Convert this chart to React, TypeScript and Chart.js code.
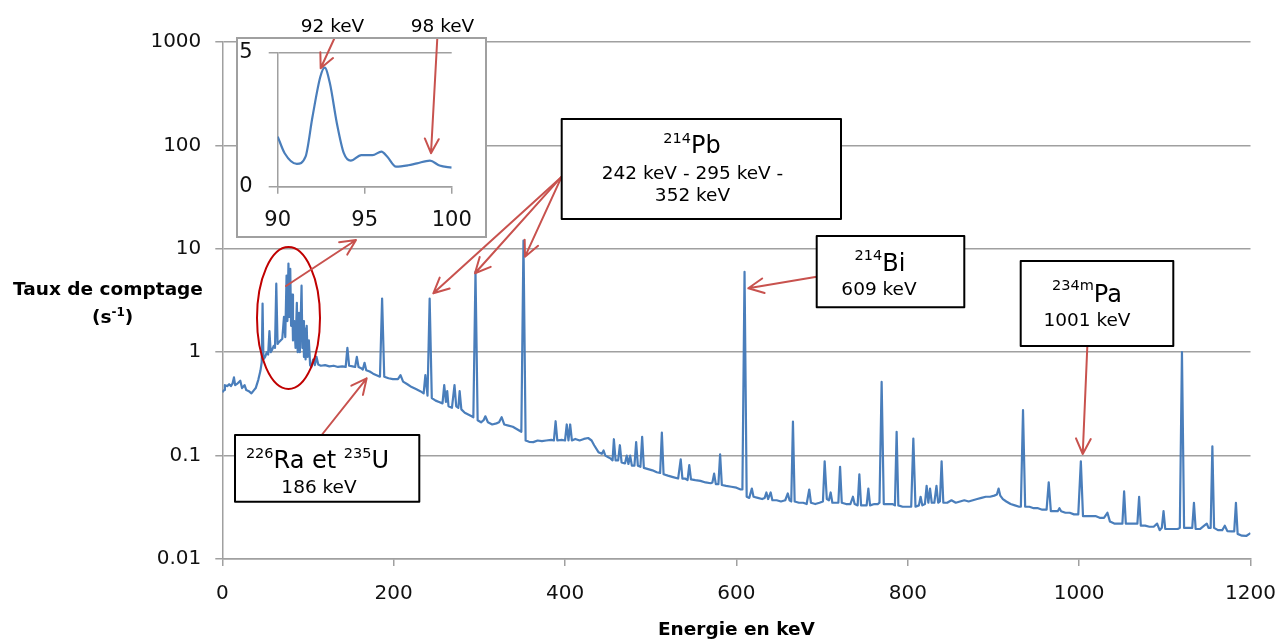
import { useEffect, useRef } from 'react';
import { Chart, registerables } from 'chart.js';

Chart.register(...registerables);

// ---------- DATA ----------
// Gamma spectrum: [energy keV, count rate s^-1]
const spectrum: [number, number][] = [
  [0, 0.41], [2, 0.43], [3, 0.48], [6, 0.47], [8, 0.49], [10, 0.47], [12, 0.5], [13.6, 0.57], [15, 0.48],
  [18, 0.5], [21, 0.53], [23, 0.45], [26, 0.48], [28, 0.43], [31, 0.42], [34, 0.4], [37, 0.43], [39, 0.45],
  [42, 0.54], [44.5, 0.66], [46, 0.8], [47, 2.95], [48, 0.85], [50, 0.9], [52, 1.0], [53.5, 0.95], [55, 1.6],
  [56.5, 1.0], [58, 1.05], [60, 1.15], [61.5, 1.1], [63, 4.6], [64.5, 1.2], [66, 1.25], [68, 1.3], [70, 1.35],
  [72, 2.2], [73.5, 1.4], [75, 5.5], [76, 2.0], [77.2, 7.2], [78.2, 2.2], [79.3, 6.4], [80.3, 1.8], [81.5, 3.6],
  [82.5, 1.3], [84, 2.0], [85.5, 1.1], [87, 3.0], [88, 1.0], [89.5, 2.4], [90.5, 1.0], [92.5, 4.4], [93.5, 1.1],
  [94.5, 2.0], [95.3, 0.9], [96.3, 1.7], [97.2, 0.85], [98.5, 1.8], [99.5, 0.9], [101, 1.3], [102.5, 0.75],
  [104, 0.72], [106, 0.85], [108, 0.75], [110, 0.9], [112, 0.76], [115, 0.74], [120, 0.75], [125, 0.73],
  [130, 0.74], [135, 0.72], [140, 0.73], [144, 0.72], [146, 1.1], [148, 0.74], [152, 0.73], [155, 0.72],
  [157, 0.9], [159, 0.72], [162, 0.7], [164, 0.68], [166, 0.79], [168, 0.67], [172, 0.65], [176, 0.62],
  [180, 0.6], [184, 0.58], [186.5, 3.3], [189, 0.58], [194, 0.56], [199, 0.55], [205, 0.55], [208, 0.6],
  [211, 0.52], [216, 0.49], [221, 0.46], [226, 0.44], [231, 0.42], [235, 0.4], [237, 0.6], [239.5, 0.38],
  [242, 3.3], [244.5, 0.36], [249, 0.34], [253, 0.33], [257, 0.32], [259, 0.48], [261, 0.33], [262.5, 0.42],
  [264, 0.3], [268, 0.29], [271, 0.48], [273, 0.3], [275.5, 0.29], [277, 0.42], [279, 0.28], [283, 0.26],
  [287, 0.25], [291, 0.24], [293, 0.235], [295.5, 6.0], [298, 0.22], [302, 0.21], [305, 0.22], [307, 0.24],
  [310, 0.21], [315, 0.2], [320, 0.205], [323, 0.21], [326, 0.235], [329, 0.2], [334, 0.195], [339, 0.19],
  [344, 0.18], [349, 0.17], [351.5, 12], [354, 0.14], [358, 0.136], [363, 0.135], [368, 0.14], [373, 0.138],
  [378, 0.14], [384, 0.142], [387, 0.14], [389, 0.215], [391, 0.14], [396, 0.142], [400, 0.14], [402, 0.2],
  [404, 0.14], [406, 0.2], [408, 0.14], [412, 0.145], [417, 0.14], [422, 0.145], [427, 0.148], [431, 0.14],
  [434, 0.126], [439, 0.108], [443, 0.104], [445, 0.112], [447, 0.1], [451, 0.096], [453, 0.094],
  [455.5, 0.09], [457, 0.144], [459, 0.09], [462, 0.09], [464, 0.126], [466, 0.086], [470, 0.084],
  [472, 0.1], [474, 0.083], [476, 0.1], [478, 0.08], [481, 0.08], [483, 0.135], [485, 0.08], [488, 0.078],
  [490, 0.152], [492, 0.076], [497, 0.074], [502, 0.072], [507, 0.069], [511, 0.068], [513, 0.167],
  [515, 0.066], [520, 0.064], [526, 0.062], [532, 0.06], [535, 0.092], [537, 0.06], [540, 0.06], [543, 0.058],
  [545, 0.081], [547, 0.059], [552, 0.058], [558, 0.057], [564, 0.055], [570, 0.054], [572, 0.055],
  [574, 0.067], [576, 0.053], [579, 0.053], [581, 0.103], [583, 0.052], [588, 0.051], [594, 0.05],
  [600, 0.049], [605, 0.047], [607, 0.047], [609.5, 6.0], [612, 0.04], [615, 0.039], [618, 0.048],
  [620, 0.04], [625, 0.039], [630, 0.038], [633, 0.039], [635, 0.044], [637, 0.038], [640, 0.044],
  [642, 0.037], [647, 0.037], [652, 0.036], [657, 0.037], [660, 0.043], [662, 0.037], [664, 0.036],
  [666, 0.213], [668, 0.036], [673, 0.035], [678, 0.035], [682, 0.034], [685, 0.047], [687, 0.035],
  [692, 0.034], [697, 0.035], [701, 0.036], [703, 0.088], [705.5, 0.038], [708, 0.037], [710, 0.044],
  [712, 0.035], [716, 0.035], [719, 0.035], [721, 0.078], [723, 0.035], [728, 0.034], [733, 0.034],
  [736, 0.04], [738, 0.034], [741.5, 0.033], [743.5, 0.066], [745.5, 0.033], [750, 0.033], [752, 0.033],
  [754, 0.048], [756, 0.033], [761, 0.034], [765, 0.034], [767, 0.035], [769.5, 0.516], [772, 0.034],
  [777, 0.034], [782, 0.034], [785, 0.033], [787, 0.17], [789, 0.033], [794, 0.032], [799, 0.032],
  [804, 0.032], [806.5, 0.146], [809, 0.032], [813, 0.033], [815, 0.04], [817, 0.033], [820, 0.034],
  [822, 0.051], [824, 0.035], [826, 0.048], [828, 0.035], [831, 0.035], [833.5, 0.051], [835.5, 0.035],
  [837.5, 0.036], [839.5, 0.088], [841.5, 0.035], [846, 0.035], [851, 0.037], [856, 0.035], [861, 0.036],
  [866, 0.037], [871, 0.036], [876, 0.037], [881, 0.038], [886, 0.039], [891, 0.04], [896, 0.04],
  [901, 0.041], [904, 0.042], [906, 0.048], [908, 0.041], [911, 0.038], [915, 0.036], [920, 0.034],
  [925, 0.033], [930, 0.032], [932, 0.032], [934.5, 0.275], [937, 0.032], [942, 0.032], [947, 0.031],
  [952, 0.031], [957, 0.03], [962, 0.03], [964.5, 0.055], [967, 0.029], [971, 0.029], [975, 0.029],
  [977, 0.031], [979, 0.029], [984, 0.028], [989, 0.028], [994, 0.027], [999, 0.027], [1002, 0.088],
  [1004.5, 0.026], [1009, 0.026], [1014, 0.026], [1019, 0.026], [1024, 0.025], [1029, 0.025], [1033, 0.028],
  [1036, 0.023], [1041, 0.022], [1046, 0.022], [1050.5, 0.022], [1052.5, 0.045], [1054.5, 0.022],
  [1059, 0.022], [1064, 0.022], [1068, 0.022], [1070, 0.04], [1072, 0.021], [1077, 0.021], [1082, 0.0205],
  [1087, 0.0205], [1091, 0.022], [1094, 0.019], [1096.5, 0.02], [1098.5, 0.029], [1100.5, 0.0195],
  [1105, 0.0195], [1110, 0.0195], [1115, 0.0195], [1117.5, 0.02], [1120, 1.0], [1122.5, 0.02], [1127, 0.02],
  [1132, 0.02], [1134, 0.035], [1136, 0.0195], [1141, 0.0195], [1146, 0.021], [1149, 0.022], [1151, 0.02],
  [1153.5, 0.02], [1155.5, 0.123], [1157.5, 0.02], [1162, 0.019], [1167, 0.019], [1170, 0.021],
  [1173, 0.0186], [1178, 0.0185], [1181, 0.0185], [1183, 0.035], [1185, 0.0175], [1190, 0.0168],
  [1195, 0.0167], [1200, 0.0178],
];

// Inset zoom 90-100 keV (linear)
const insetPoints: [number, number][] = [
  [90.0, 1.87], [90.4, 1.25], [91.1, 0.85], [91.6, 1.12], [92.0, 2.61], [92.45, 4.1], [92.7, 4.44],
  [93.0, 3.86], [93.4, 2.37], [93.8, 1.25], [94.2, 0.97], [94.8, 1.18], [95.45, 1.18], [95.96, 1.31],
  [96.3, 1.12], [96.8, 0.75], [97.5, 0.8], [98.0, 0.87], [98.75, 0.97], [99.3, 0.79], [100, 0.71],
];

const xTickValues = [0, 200, 400, 600, 800, 1000, 1200];
const yTickValues = [0.01, 0.1, 1, 10, 100, 1000];
const yTickLabels = ['0.01', '0.1', '1', '10', '100', '1000'];
const insetXTicks = [90, 95, 100];
const insetYTicks = [0, 5];

// Arrow targets (keV, rate)
const pbTargets: [number, number][] = [[246.3, 3.71], [294.9, 5.8], [353.3, 8.39]];
const biTarget: [number, number] = [613.9, 4.15];
const paTarget: [number, number] = [1004.2, 0.1036];
const raTarget: [number, number] = [168.5, 0.559];
const insetTargets: [number, number][] = [[92.47, 4.42], [98.81, 1.25]];
const insetArrowStarts = [93.24, 99.17];

// ---------- STYLE ----------
const FONT = 'DejaVu Sans';
const BLUE = '#4a7ebb';
const RED = '#c8524e';
const DARKRED = '#c00000';
const GRID = '#a0a0a0';
const TXT = '#111111';

function arrow(ctx: CanvasRenderingContext2D, x1: number, y1: number, x2: number, y2: number, head = 17) {
  const a = Math.atan2(y2 - y1, x2 - x1);
  const sp = 0.45;
  ctx.beginPath();
  ctx.moveTo(x1, y1);
  ctx.lineTo(x2, y2);
  ctx.moveTo(x2 - head * Math.cos(a - sp), y2 - head * Math.sin(a - sp));
  ctx.lineTo(x2, y2);
  ctx.lineTo(x2 - head * Math.cos(a + sp), y2 - head * Math.sin(a + sp));
  ctx.stroke();
}

type Part = { t: string; sup?: boolean };
function rich(ctx: CanvasRenderingContext2D, parts: Part[], cx: number, base: number, size: number, supSize: number, raise: number, weight = 'normal') {
  const f = (p: Part) => `${weight} ${p.sup ? supSize : size}px "${FONT}"`;
  let total = 0;
  const ws = parts.map((p) => {
    ctx.font = f(p);
    const w = ctx.measureText(p.t).width;
    total += w;
    return w;
  });
  let x = cx - total / 2;
  ctx.textAlign = 'left';
  ctx.textBaseline = 'alphabetic';
  parts.forEach((p, i) => {
    ctx.font = f(p);
    ctx.fillText(p.t, x, p.sup ? base - raise : base);
    x += ws[i];
  });
}

function line(ctx: CanvasRenderingContext2D, t: string, cx: number, base: number, size: number, weight = 'normal') {
  ctx.font = `${weight} ${size}px "${FONT}"`;
  ctx.textAlign = 'center';
  ctx.textBaseline = 'alphabetic';
  ctx.fillText(t, cx, base);
}

function box(ctx: CanvasRenderingContext2D, x1: number, y1: number, x2: number, y2: number) {
  ctx.fillStyle = '#ffffff';
  ctx.fillRect(x1, y1, x2 - x1, y2 - y1);
  ctx.strokeStyle = '#000000';
  ctx.lineWidth = 2;
  ctx.strokeRect(x1, y1, x2 - x1, y2 - y1);
}

const mainAnnotations = {
  id: 'mainAnnotations',
  afterDatasetsDraw(chart: any) {
    const ctx: CanvasRenderingContext2D = chart.ctx;
    const xs = chart.scales.x;
    const ys = chart.scales.y;
    const P = (d: [number, number]) => [xs.getPixelForValue(d[0]), ys.getPixelForValue(d[1])];
    ctx.save();

    // Ellipse around low-energy cluster
    ctx.strokeStyle = DARKRED;
    ctx.lineWidth = 2;
    ctx.beginPath();
    ctx.ellipse(288.5, 318, 31.5, 71, 0, 0, Math.PI * 2);
    ctx.stroke();

    // Arrows
    ctx.strokeStyle = RED;
    ctx.lineWidth = 2;
    ctx.lineCap = 'round';
    ctx.lineJoin = 'round';
    arrow(ctx, 286, 286, 356, 240);
    pbTargets.forEach((t) => {
      const [x, y] = P(t);
      arrow(ctx, 561.7, 176.7, x, y);
    });
    {
      const [x, y] = P(biTarget);
      arrow(ctx, 816.7, 276.7, x, y);
    }
    {
      const [x, y] = P(paTarget);
      arrow(ctx, 1087.3, 346.7, x, y);
    }
    {
      const [x, y] = P(raTarget);
      arrow(ctx, 321.7, 435, x, y);
    }

    // Boxes
    box(ctx, 561.7, 119, 841, 219);
    box(ctx, 816.7, 236, 964.3, 307.3);
    box(ctx, 1020.7, 261, 1173.3, 346);
    box(ctx, 235, 435, 419.3, 501.7);

    ctx.fillStyle = '#000000';
    rich(ctx, [{ t: '214', sup: true }, { t: 'Pb' }], 692, 153, 24, 14.5, 10);
    line(ctx, '242 keV - 295 keV -', 692.5, 179, 18.5);
    line(ctx, '352 keV', 692.5, 201, 18.5);

    rich(ctx, [{ t: '214', sup: true }, { t: 'Bi' }], 880, 270.7, 24, 14.5, 10.5);
    line(ctx, '609 keV', 879, 295, 18.5);

    rich(ctx, [{ t: '234m', sup: true }, { t: 'Pa' }], 1087, 301.7, 24, 14.5, 12);
    line(ctx, '1001 keV', 1087, 326, 18.5);

    rich(ctx, [{ t: '226', sup: true }, { t: 'Ra et ' }, { t: '235', sup: true }, { t: 'U' }], 317.5, 468.3, 24, 14.5, 10);
    line(ctx, '186 keV', 319, 493.3, 18.5);

    // Inset labels
    line(ctx, '92 keV', 332.5, 31.5, 18.5);
    line(ctx, '98 keV', 442.5, 31.5, 18.5);

    // Axis titles
    ctx.fillStyle = '#000000';
    line(ctx, 'Taux de comptage', 108, 295, 18.5, 'bold');
    rich(ctx, [{ t: '(s' }, { t: '-1', sup: true }, { t: ')' }], 112.7, 323, 18.5, 12, 7, 'bold');
    line(ctx, 'Energie en keV', (chart.chartArea.left + chart.chartArea.right) / 2, 635, 18.5, 'bold');

    ctx.restore();
  },
};

const insetAnnotations = {
  id: 'insetAnnotations',
  afterDatasetsDraw(chart: any) {
    const ctx: CanvasRenderingContext2D = chart.ctx;
    const xs = chart.scales.x;
    const ys = chart.scales.y;
    ctx.save();
    ctx.strokeStyle = RED;
    ctx.lineWidth = 2;
    ctx.lineCap = 'round';
    ctx.lineJoin = 'round';
    insetTargets.forEach((t, i) => {
      arrow(ctx, xs.getPixelForValue(insetArrowStarts[i]), 0, xs.getPixelForValue(t[0]), ys.getPixelForValue(t[1]), 16);
    });
    ctx.restore();
  },
};

const fixX = (h: number) => (s: any) => {
  s.height = h;
  s.paddingLeft = 0;
  s.paddingRight = 0;
};
const fixY = (w: number) => (s: any) => {
  s.width = w;
  s.paddingTop = 0;
  s.paddingBottom = 0;
};

export default function App() {
  const mainRef = useRef<HTMLCanvasElement | null>(null);
  const insetRef = useRef<HTMLCanvasElement | null>(null);

  useEffect(() => {
    if (!mainRef.current || !insetRef.current) return;
    const tickFont = { family: FONT, size: 20 };

    const main = new Chart(mainRef.current, {
      type: 'scatter',
      data: {
        datasets: [
          {
            data: spectrum.map(([x, y]) => ({ x, y })),
            showLine: true,
            borderColor: BLUE,
            borderWidth: 2.2,
            pointRadius: 0,
            borderJoinStyle: 'round',
            tension: 0,
          },
        ],
      },
      options: {
        animation: false,
        responsive: false,
        maintainAspectRatio: false,
        events: [],
        layout: { padding: { top: 42, right: 30.5, bottom: 0, left: 0 } },
        plugins: { legend: { display: false }, tooltip: { enabled: false } },
        scales: {
          x: {
            type: 'linear',
            min: 0,
            max: 1200,
            afterBuildTicks: (s: any) => {
              s.ticks = xTickValues.map((v) => ({ value: v }));
            },
            afterFit: fixX(82),
            ticks: { font: tickFont, color: TXT, padding: 16, maxRotation: 0, callback: (v: any) => String(v) },
            grid: { drawOnChartArea: false, drawTicks: true, tickLength: 7, color: GRID, lineWidth: 1.5 },
            border: { display: true, color: GRID, width: 1.5 },
          },
          y: {
            type: 'logarithmic',
            min: 0.01,
            max: 1000,
            afterBuildTicks: (s: any) => {
              s.ticks = yTickValues.map((v) => ({ value: v }));
            },
            afterFit: fixY(222.3),
            ticks: {
              font: tickFont,
              color: TXT,
              padding: 14,
              callback: (v: any) => {
                const i = yTickValues.indexOf(Number(v));
                return i >= 0 ? yTickLabels[i] : '';
              },
            },
            grid: { drawTicks: true, tickLength: 7, color: GRID, lineWidth: 1.5 },
            border: { display: true, color: GRID, width: 1.5 },
          },
        },
      },
      plugins: [mainAnnotations],
    } as any);

    const inset = new Chart(insetRef.current, {
      type: 'scatter',
      data: {
        datasets: [
          {
            data: insetPoints.map(([x, y]) => ({ x, y })),
            showLine: true,
            borderColor: BLUE,
            borderWidth: 2.2,
            pointRadius: 0,
            cubicInterpolationMode: 'monotone',
          },
        ],
      },
      options: {
        animation: false,
        responsive: false,
        maintainAspectRatio: false,
        events: [],
        layout: { padding: { top: 13.7, right: 33.3, bottom: 0, left: 0 } },
        plugins: { legend: { display: false }, tooltip: { enabled: false } },
        scales: {
          x: {
            type: 'linear',
            min: 90,
            max: 100,
            afterBuildTicks: (s: any) => {
              s.ticks = insetXTicks.map((v) => ({ value: v }));
            },
            afterFit: fixX(49.3),
            ticks: { font: { family: FONT, size: 21 }, color: TXT, padding: 14, maxRotation: 0 },
            grid: { drawOnChartArea: false, drawTicks: true, tickLength: 7, color: GRID, lineWidth: 1.5 },
            border: { display: true, color: GRID, width: 1.5 },
          },
          y: {
            type: 'linear',
            min: 0,
            max: 5,
            afterBuildTicks: (s: any) => {
              s.ticks = insetYTicks.map((v) => ({ value: v }));
            },
            afterFit: fixY(39.7),
            ticks: { font: { family: FONT, size: 21 }, color: TXT, padding: 16 },
            grid: { drawTicks: true, tickLength: 9, color: GRID, lineWidth: 1.5 },
            border: { display: true, color: GRID, width: 1.5 },
          },
        },
      },
      plugins: [insetAnnotations],
    } as any);

    return () => {
      main.destroy();
      inset.destroy();
    };
  }, []);

  return (
    <div style={{ position: 'fixed', left: 0, top: 0, width: 1281, height: 641, background: '#ffffff' }}>
      <canvas ref={mainRef} width={1281} height={641} style={{ position: 'absolute', left: 0, top: 0, width: 1281, height: 641 }} />
      <div
        style={{
          position: 'absolute',
          left: 236,
          top: 37,
          width: 251,
          height: 201,
          boxSizing: 'border-box',
          border: `2px solid ${GRID}`,
          background: '#ffffff',
        }}
      >
        <canvas ref={insetRef} width={247} height={197} style={{ position: 'absolute', left: 0, top: 0, width: 247, height: 197 }} />
      </div>
    </div>
  );
}
